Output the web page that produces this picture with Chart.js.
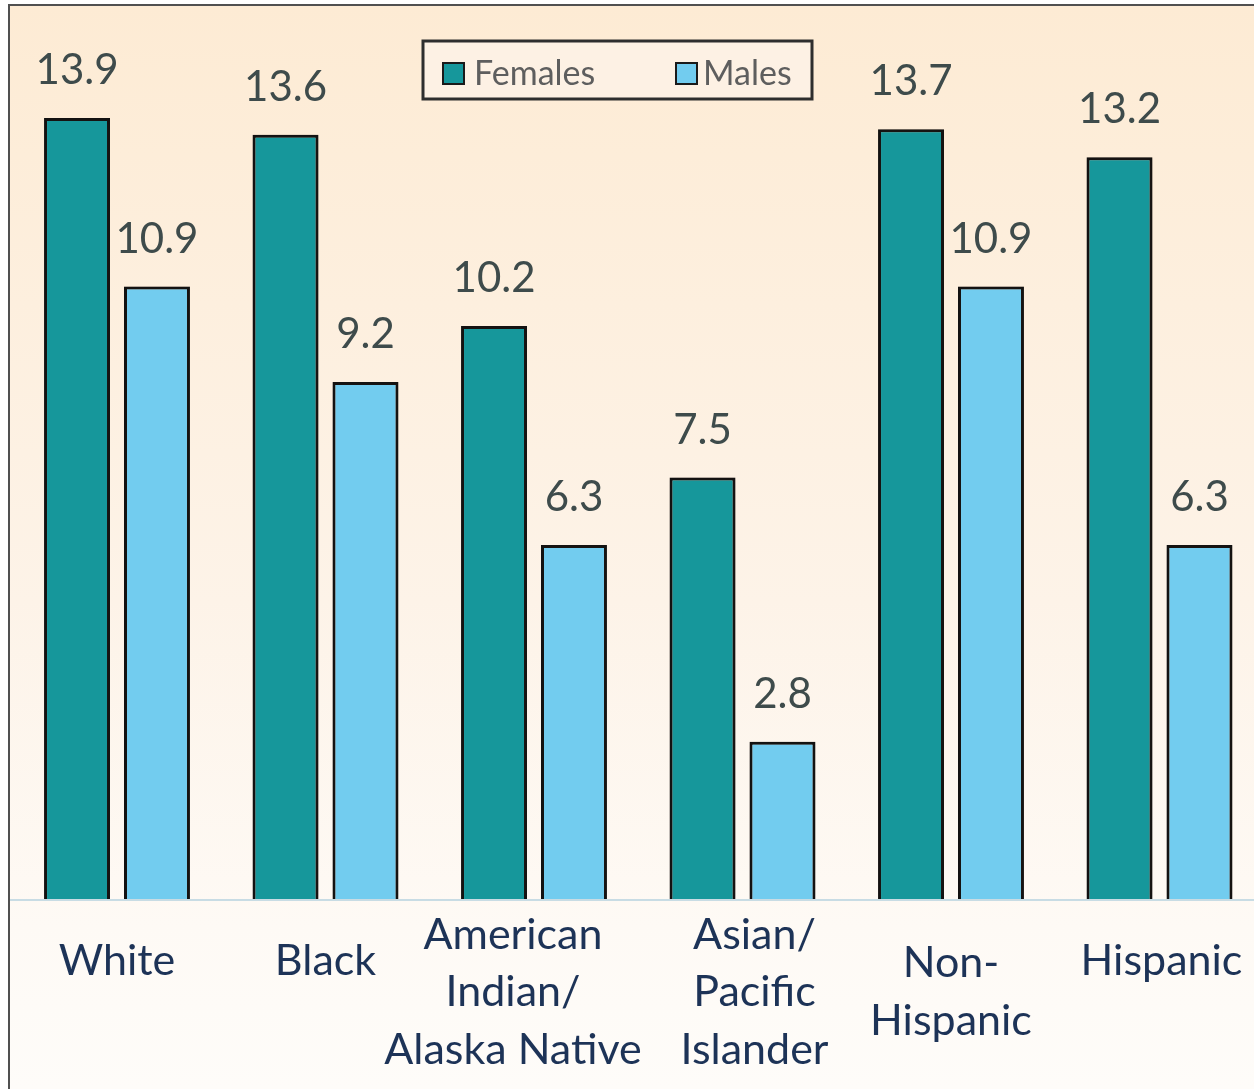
<!DOCTYPE html>
<html>
<head>
<meta charset="utf-8">
<script src="https://cdn.jsdelivr.net/npm/chart.js@4.4.1/dist/chart.umd.min.js"></script>
<style>
  html, body { margin: 0; padding: 0; background: #ffffff; overflow: hidden; }
  #wrap { position: absolute; left: 0; top: 0; width: 1274px; height: 1089px; }
</style>
</head>
<body>
<div id="wrap"><canvas id="c" width="1274" height="1089"></canvas></div>
<script>
// ---- data ----
const categories = [
  ['White'],
  ['Black'],
  ['American', 'Indian/', 'Alaska Native'],
  ['Asian/', 'Pacific', 'Islander'],
  ['Non-', 'Hispanic'],
  ['Hispanic']
];
const seriesNames = ['Females', 'Males'];
const femaleValues = [13.9, 13.6, 10.2, 7.5, 13.7, 13.2];
const maleValues = [10.9, 9.2, 6.3, 2.8, 10.9, 6.3];

const FEMALE_COLOR = '#16979B';
const MALE_COLOR = '#72CCEF';
const FONT = 'Lato, "Open Sans", sans-serif';
// small horizontal nudges of the wrapped category labels (layout only)
const LABEL_NUDGE = [0, 0, -21, 12, 0, 2];

const backgroundPlugin = {
  id: 'bg',
  beforeDraw(chart) {
    const ctx = chart.ctx;
    const w = chart.width, h = chart.height;
    ctx.save();
    ctx.fillStyle = '#ffffff';
    ctx.fillRect(0, 0, w, h);
    const g = ctx.createLinearGradient(0, 6, 0, h);
    g.addColorStop(0, '#FDEBD4');
    g.addColorStop(0.55, '#FDF3E8');
    g.addColorStop(0.85, '#FEFAF5');
    g.addColorStop(1, '#FEFCF9');
    ctx.fillStyle = g;
    ctx.fillRect(10, 6, w - 10, h - 6);
    ctx.strokeStyle = '#505050';
    ctx.lineWidth = 2;
    ctx.strokeRect(9, 5, w + 20, h + 20);
    ctx.restore();
  }
};

const shadowPlugin = {
  id: 'barShadow',
  beforeDatasetDraw(chart) {
    const ctx = chart.ctx;
    ctx.save();
    ctx.shadowColor = 'rgba(60,40,30,0.35)';
    ctx.shadowBlur = 7;
    ctx.shadowOffsetX = 1;
    ctx.shadowOffsetY = 0;
  },
  afterDatasetDraw(chart) {
    chart.ctx.restore();
  }
};

const axisLinePlugin = {
  id: 'axisLine',
  beforeDatasetsDraw(chart) {
    const ctx = chart.ctx;
    const y = chart.scales.y.getPixelForValue(0);
    ctx.save();
    ctx.strokeStyle = '#C8DCE4';
    ctx.lineWidth = 2;
    ctx.beginPath();
    ctx.moveTo(10, y + 1);
    ctx.lineTo(chart.width, y + 1);
    ctx.stroke();
    ctx.restore();
  }
};

const labelsPlugin = {
  id: 'valueLabels',
  afterDatasetsDraw(chart) {
    const ctx = chart.ctx;
    ctx.save();
    ctx.font = '42px ' + FONT;
    ctx.fillStyle = '#3E4B4B';
    ctx.textAlign = 'center';
    ctx.textBaseline = 'alphabetic';
    chart.data.datasets.forEach((ds, di) => {
      const meta = chart.getDatasetMeta(di);
      meta.data.forEach((bar, i) => {
        ctx.fillText(ds.data[i].toFixed(1), bar.x, bar.y - 34);
      });
    });
    // category labels
    const xs = chart.scales.x;
    ctx.font = '43px ' + FONT;
    ctx.fillStyle = '#1D3357';
    const lh = 57.5;
    chart.data.labels.forEach((lines, i) => {
      const x = xs.getPixelForValue(i) + LABEL_NUDGE[i];
      let y0 = lines.length === 1 ? 975 : 1006 - (lines.length - 1) * lh / 2;
      lines.forEach((t, k) => ctx.fillText(t, x, y0 + k * lh));
    });
    ctx.restore();
  }
};

const legendPlugin = {
  id: 'boxLegend',
  afterDraw(chart) {
    const ctx = chart.ctx;
    ctx.save();
    ctx.fillStyle = '#FDF1E4';
    ctx.fillRect(423, 41, 389, 58);
    ctx.strokeStyle = '#2E2E2E';
    ctx.lineWidth = 3;
    ctx.strokeRect(423, 41, 389, 58);
    const items = [
      { sx: 443, tx: 474 },
      { sx: 676, tx: 703 }
    ];
    ctx.font = '34px ' + FONT;
    ctx.textBaseline = 'alphabetic';
    ctx.textAlign = 'left';
    chart.data.datasets.forEach((ds, di) => {
      const it = items[di];
      ctx.fillStyle = ds.backgroundColor;
      ctx.fillRect(it.sx, 63, 21, 21);
      ctx.strokeStyle = '#1a1a1a';
      ctx.lineWidth = 2;
      ctx.strokeRect(it.sx, 63, 21, 21);
      ctx.fillStyle = '#5E5E5E';
      ctx.fillText(ds.label, it.tx, 85);
    });
    ctx.restore();
  }
};

new Chart(document.getElementById('c'), {
  type: 'bar',
  data: {
    labels: categories,
    datasets: [
      { label: seriesNames[0], data: femaleValues, backgroundColor: FEMALE_COLOR,
        borderColor: '#111111', borderWidth: 3, categoryPercentage: 0.767, barPercentage: 0.825 },
      { label: seriesNames[1], data: maleValues, backgroundColor: MALE_COLOR,
        borderColor: '#111111', borderWidth: 3, categoryPercentage: 0.767, barPercentage: 0.825 }
    ]
  },
  options: {
    responsive: false,
    animation: false,
    devicePixelRatio: 1,
    layout: { padding: { left: 12.75, right: 10.25, top: 0, bottom: 190 } },
    plugins: { legend: { display: false }, tooltip: { enabled: false } },
    scales: {
      x: { display: false },
      y: { display: false, min: 0, max: 16 }
    }
  },
  plugins: [backgroundPlugin, axisLinePlugin, shadowPlugin, labelsPlugin, legendPlugin]
});
</script>
</body>
</html>
